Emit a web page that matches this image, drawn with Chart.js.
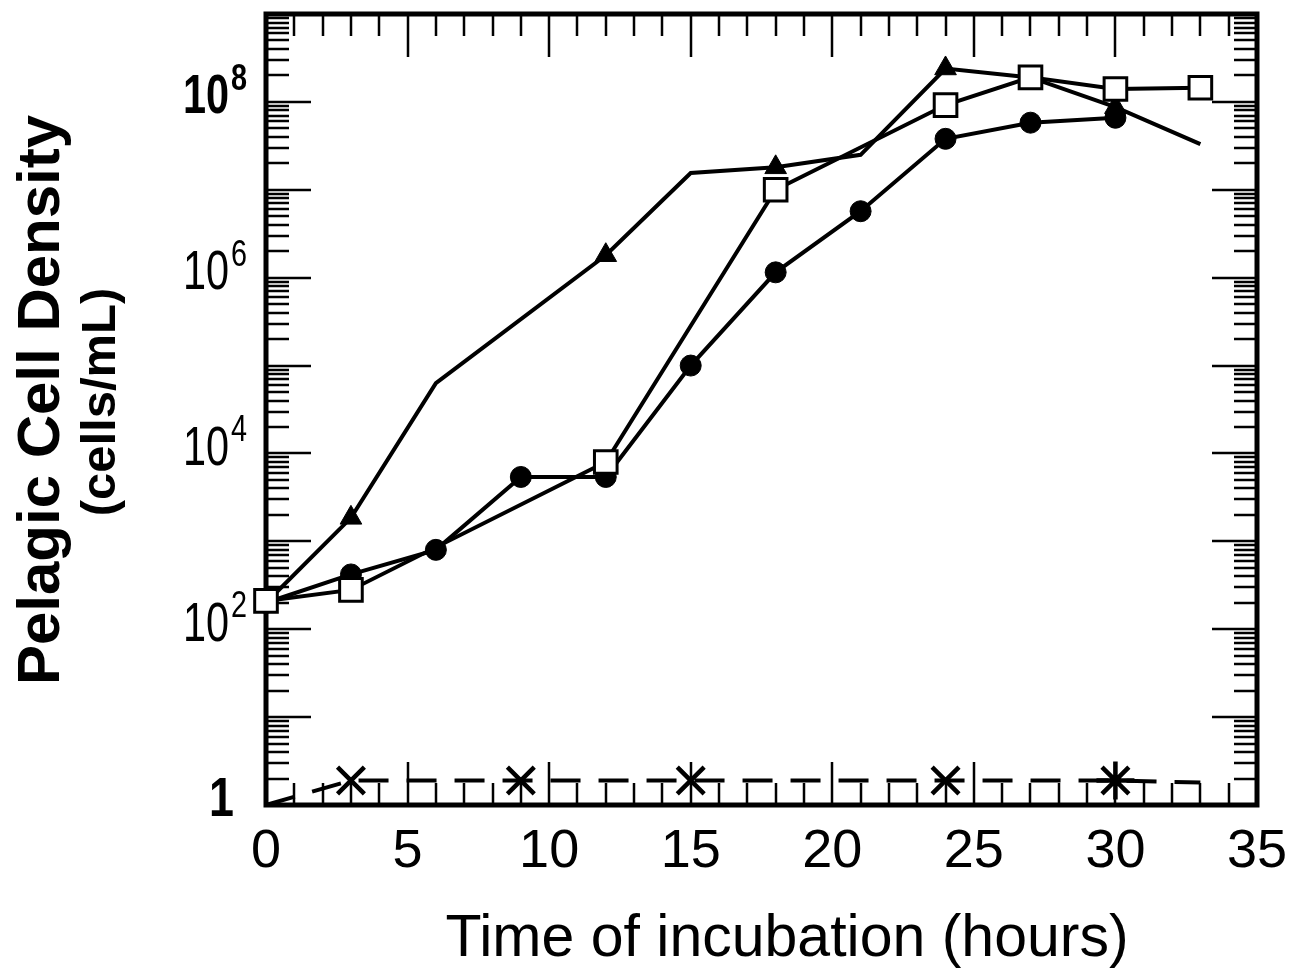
<!DOCTYPE html>
<html>
<head>
<meta charset="utf-8">
<script src="https://cdn.jsdelivr.net/npm/chart.js@4.4.0/dist/chart.umd.min.js"></script>
<style>
  html, body { margin: 0; padding: 0; background: #fff; }
  #wrap { width: 1295px; height: 970px; }
</style>
</head>
<body>
<div id="wrap"><canvas id="chart" width="1295" height="970"></canvas></div>
<script>
// 讀圖數值（小時, cells/mL）
const hoursSquare = [0, 3, 12, 18, 24, 27, 30, 33];
const cellsSquare = [210, 280, 8000, 1.0e7, 9.2e7, 1.9e8, 1.4e8, 1.45e8];

const hoursCircle = [0, 3, 6, 9, 12, 15, 18, 21, 24, 27, 30];
const cellsCircle = [200, 420, 800, 5400, 5400, 1.0e5, 1.15e6, 5.7e6, 3.8e7, 5.8e7, 6.6e7];

const hoursTriangle = [0, 3, 6, 12, 15, 18, 21, 24, 27, 30, 33];
const cellsTriangle = [200, 1850, 6.3e4, 1.8e6, 1.55e7, 1.8e7, 2.5e7, 2.4e8, 1.9e8, 8.7e7, 3.3e7];
const triangleMarked = [false, true, false, true, false, true, false, true, false, true, false];

const hoursCross = [0, 3, 9, 15, 24, 30, 33];
const cellsCross = [1, 1.9, 1.9, 1.9, 1.9, 1.9, 1.8];
const crossStyles = [false, 'crossRot', 'crossRot', 'crossRot', 'crossRot', 'star', false];

// 座標軸標籤
const xTickValues = [0, 5, 10, 15, 20, 25, 30, 35];
const yTickValues = [1, 1e2, 1e4, 1e6, 1e8];
const yTickExponents = ['', '2', '4', '6', '8'];
const yBoldTicks = [1, 1e8];
const xTitle = 'Time of incubation (hours)';
const yTitleLines = ['Pelagic Cell Density', '(cells/mL)'];

const toPoints = (xs, ys) => xs.map((x, i) => ({ x, y: ys[i] }));

// 窄一點的字（沒有 Narrow 字型，用水平縮放）
function narrowText(ctx, text, x, y, align, sx) {
  ctx.save();
  ctx.translate(x, y);
  ctx.scale(sx, 1);
  ctx.textAlign = align;
  ctx.fillText(text, 0, 0);
  ctx.restore();
}

// 外框 + 刻度（在資料點下面畫）
const framePlugin = {
  id: 'frame',
  beforeDatasetsDraw(chart) {
    const { ctx, chartArea: a, scales: { x, y } } = chart;
    ctx.save();
    ctx.strokeStyle = '#000';
    ctx.lineWidth = 2.5;
    ctx.beginPath();
    // x 刻度：每 1 小時，5 的倍數較長
    for (let h = 1; h < 35; h++) {
      const px = Math.round(x.getPixelForValue(h));
      const len = h % 5 === 0 ? 43 : 22;
      ctx.moveTo(px, a.top); ctx.lineTo(px, a.top + len);
      ctx.moveTo(px, a.bottom); ctx.lineTo(px, a.bottom - len);
    }
    // y 刻度：對數
    for (let k = 0; k <= 8; k++) {
      for (let m = 1; m <= 9; m++) {
        if (k === 0 && m === 1) continue;
        const py = Math.round(y.getPixelForValue(m * Math.pow(10, k)));
        const len = m === 1 ? 45 : 23;
        ctx.moveTo(a.left, py); ctx.lineTo(a.left + len, py);
        ctx.moveTo(a.right, py); ctx.lineTo(a.right - len, py);
      }
    }
    ctx.stroke();
    ctx.lineWidth = 5;
    ctx.strokeRect(a.left, a.top, a.right - a.left, a.bottom - a.top);
    ctx.restore();
  },
  afterDraw(chart) {
    const { ctx, chartArea: a, scales: { x, y } } = chart;
    ctx.save();
    ctx.fillStyle = '#000';
    ctx.textBaseline = 'middle';
    // x 刻度文字
    ctx.font = '54px "Liberation Sans"';
    ctx.textAlign = 'center';
    xTickValues.forEach(v => ctx.fillText(String(v), x.getPixelForValue(v), a.bottom + 47));
    // y 刻度文字 10^n
    yTickValues.forEach((v, i) => {
      const py = y.getPixelForValue(v);
      const w = yBoldTicks.includes(v) ? 'bold ' : '';
      const exp = yTickExponents[i];
      ctx.font = w + '56px "Liberation Sans"';
      if (!exp) {
        narrowText(ctx, '1', 234, py - 4, 'right', 0.8);
        return;
      }
      narrowText(ctx, '10', 229, py - 4, 'right', 0.74);
      ctx.font = w + '36px "Liberation Sans"';
      narrowText(ctx, exp, 231, py - 22, 'left', 0.8);
    });
    // y 軸標題
    ctx.textAlign = 'center';
    ctx.save();
    ctx.translate(42, 400);
    ctx.rotate(-Math.PI / 2);
    ctx.font = 'bold 60px "Liberation Sans"';
    ctx.fillText(yTitleLines[0], 0, 0);
    ctx.restore();
    ctx.save();
    ctx.translate(101, 402);
    ctx.rotate(-Math.PI / 2);
    ctx.font = 'bold 49px "Liberation Sans"';
    ctx.fillText(yTitleLines[1], 0, 0);
    ctx.restore();
    // x 軸標題
    ctx.font = '59px "Liberation Sans"';
    ctx.fillText(xTitle, 787, 940);
    ctx.restore();
  }
};

new Chart(document.getElementById('chart'), {
  type: 'scatter',
  data: {
    datasets: [
      {
        label: 'square',
        data: toPoints(hoursSquare, cellsSquare),
        showLine: true,
        borderColor: '#000',
        borderWidth: 4,
        pointStyle: 'rect',
        pointRadius: 16,
        pointBackgroundColor: '#fff',
        pointBorderColor: '#000',
        pointBorderWidth: 3,
        clip: false
      },
      {
        label: 'circle',
        data: toPoints(hoursCircle, cellsCircle),
        showLine: true,
        borderColor: '#000',
        borderWidth: 4,
        pointStyle: 'circle',
        pointRadius: 10.5,
        pointBackgroundColor: '#000',
        pointBorderColor: '#000',
        pointBorderWidth: 1,
        clip: false
      },
      {
        label: 'triangle',
        data: toPoints(hoursTriangle, cellsTriangle),
        showLine: true,
        borderColor: '#000',
        borderWidth: 4,
        pointStyle: 'triangle',
        pointRadius: triangleMarked.map(m => m ? 12.5 : 0),
        pointBackgroundColor: '#000',
        pointBorderColor: '#000',
        pointBorderWidth: 1,
        clip: false
      },
      {
        label: 'cross',
        data: toPoints(hoursCross, cellsCross),
        showLine: true,
        borderColor: '#000',
        borderWidth: 4,
        borderDash: [30, 18],
        pointStyle: crossStyles.map(s => s || 'circle'),
        pointRadius: crossStyles.map(s => s ? 19 : 0),
        pointBorderColor: '#000',
        pointBorderWidth: 4.5,
        clip: false
      }
    ]
  },
  options: {
    responsive: false,
    animation: false,
    devicePixelRatio: 1,
    layout: { autoPadding: false, padding: { left: 266, right: 38, top: 14, bottom: 165 } },
    plugins: { legend: { display: false }, tooltip: { enabled: false } },
    elements: { line: { tension: 0 } },
    scales: {
      x: { type: 'linear', min: 0, max: 35, display: false },
      y: { type: 'logarithmic', min: 1, max: 1e9, display: false }
    }
  },
  plugins: [framePlugin]
});
</script>
</body>
</html>
